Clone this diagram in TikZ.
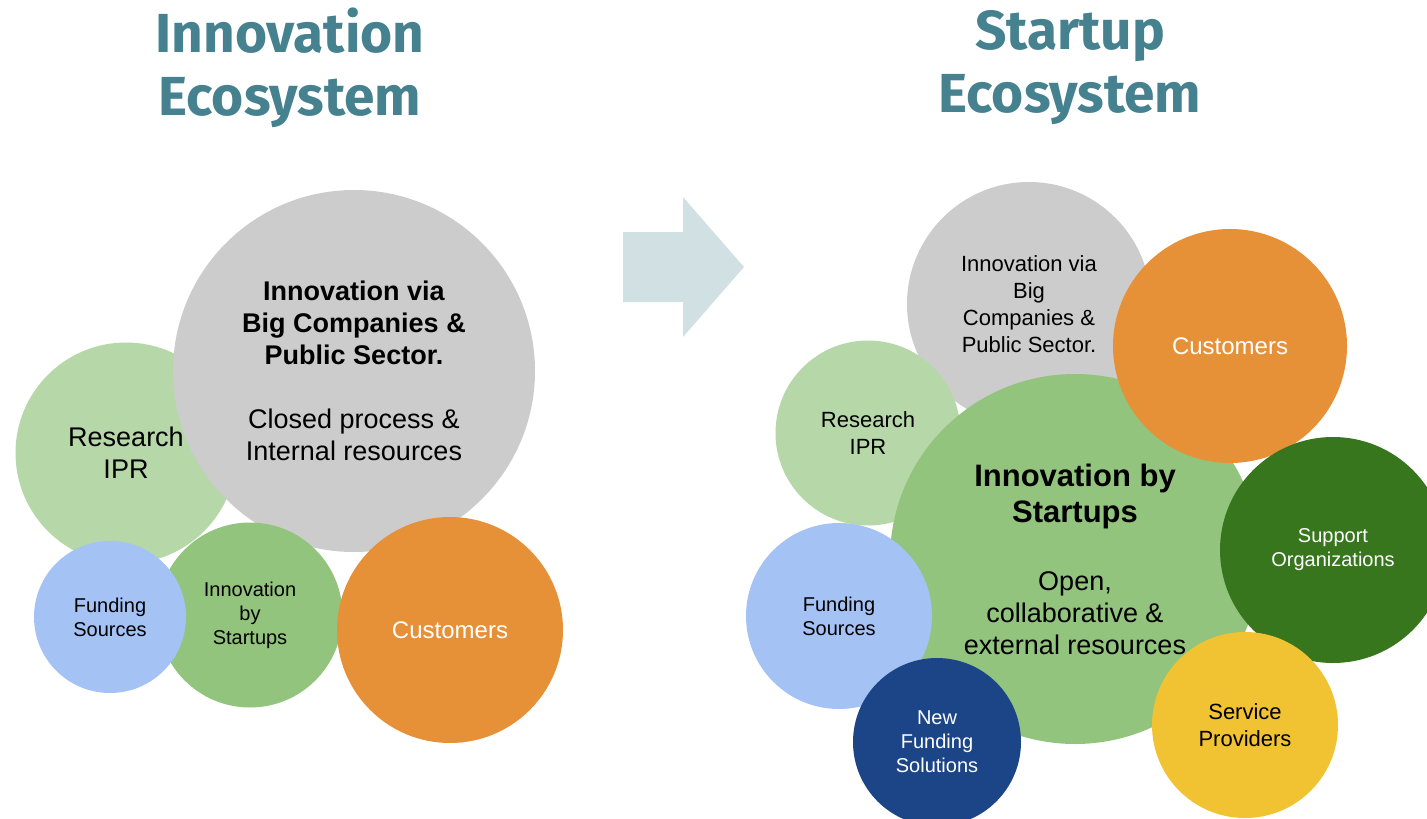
\documentclass[tikz,border=0pt]{standalone}
\usepackage{fontspec}
\setmainfont{Liberation Sans}
\newfontfamily\titlefont{Fira Sans}
\definecolor{titleteal}{HTML}{45818E}
\definecolor{arrowblue}{HTML}{D0E0E3}
\definecolor{bubblegray}{HTML}{CCCCCC}
\definecolor{palegreen}{HTML}{B6D7A8}
\definecolor{midgreen}{HTML}{93C47D}
\definecolor{darkgreen}{HTML}{38761D}
\definecolor{paleblue}{HTML}{A4C2F4}
\definecolor{darkblue}{HTML}{1C4587}
\definecolor{orange}{HTML}{E69138}
\definecolor{yellow}{HTML}{F1C232}

\begin{document}
\begin{tikzpicture}[x=1pt,y=-1pt,
	bubble/.style={circle,inner sep=0pt,align=center,minimum size=#1},
	huge/.style={font=\fontsize{27}{32}\selectfont},
	large/.style={font=\fontsize{24}{28}\selectfont},
	mid/.style={font=\fontsize{22}{27}\selectfont},
	small/.style={font=\fontsize{20}{24}\selectfont},
	title/.style={text=titleteal,align=center,font=\titlefont\bfseries\fontsize{55}{63}\selectfont}
	]
	\useasboundingbox (0,0) rectangle (1427,819);

	\node[title] (lefttitle) at (290,68) {Innovation\\Ecosystem};
	\node[title] (righttitle) at (1070,68) {Startup\\Ecosystem};

	\fill[arrowblue] (623,232) -- (683,232) -- (683,197) -- (744,267)
		-- (683,337) -- (683,302) -- (623,302) -- cycle;

	\node[bubble=221pt,fill=palegreen,huge] (lresearch) at (126,453) {Research\\IPR};
	\node[bubble=362pt,fill=bubblegray,huge] (lbig) at (354,371)
		{\textbf{Innovation via}\\\textbf{Big Companies \&}\\\textbf{Public Sector.}\\[32pt]Closed process \&\\Internal resources};
	\node[bubble=185pt,fill=midgreen,small] (lstartups) at (250,615) {Innovation\\by\\Startups};
	\node[bubble=152pt,fill=paleblue,small] (lfunding) at (110,617) {Funding\\Sources};
	\node[bubble=226pt,fill=orange,text=white,large] (lcustomers) at (450,630) {Customers};

	\node[bubble=244pt,fill=bubblegray,mid] (rbig) at (1029,304) {Innovation via\\Big\\Companies \&\\Public Sector.};
	\node[bubble=185pt,fill=palegreen,mid] (rresearch) at (868,433) {Research\\IPR};
	\node[bubble=370pt,fill=midgreen,huge] (rstartups) at (1075,559)
		{{\fontsize{31}{36}\selectfont\textbf{Innovation by}}\\[4pt]{\fontsize{31}{36}\selectfont\textbf{Startups}}\\[36pt]Open,\\collaborative \&\\external resources};
	\node[bubble=234pt,fill=orange,text=white,large] (rcustomers) at (1230,346) {Customers};
	\node[bubble=226pt,fill=darkgreen,text=white,small] (rsupport) at (1333,550) {Support\\Organizations};
	\node[bubble=186pt,fill=yellow,mid] (rservice) at (1245,725) {Service\\Providers};
	\node[bubble=186pt,fill=paleblue,small] (rfunding) at (839,616) {Funding\\Sources};
	\node[bubble=168pt,fill=darkblue,text=white,small] (rnewfunding) at (937,742) {New\\Funding\\Solutions};
\end{tikzpicture}
\end{document}
